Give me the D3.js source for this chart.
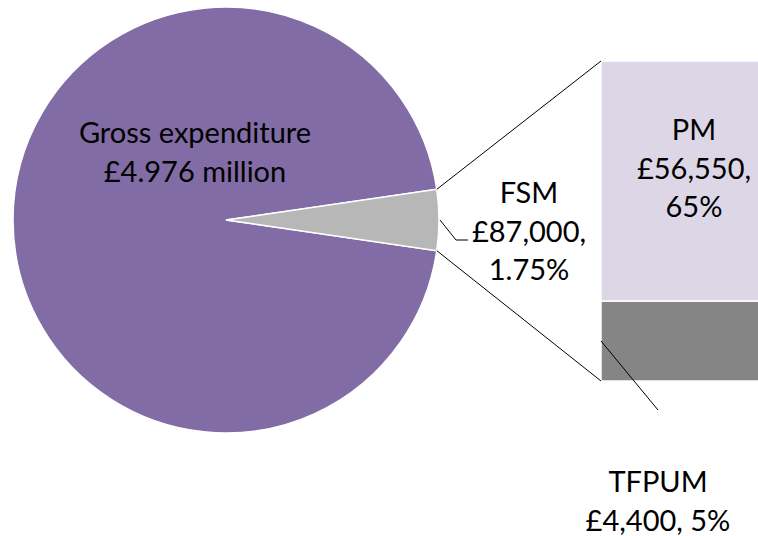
<!DOCTYPE html>
<html>
<head>
<meta charset="utf-8">
<script src="https://cdn.jsdelivr.net/npm/d3@7"></script>
<style>
  body { margin: 0; background: #fff; }
  text { font-family: Lato, "Open Sans", sans-serif; fill: #000; }
</style>
</head>
<body>
<div id="chart"></div>
<script>
// pie slices (share of the circle as drawn)
const pieNames = ['Gross expenditure', 'FSM'];
const pieShares = [95.4, 4.6];
const pieLabels = [['Gross expenditure', '£4.976 million'], ['FSM', '£87,000,', '1.75%']];

// bar segments, bottom to top (share of the bar as drawn)
const barNames = ['TFPUM', 'PM'];
const barShares = [25, 75];
const barLabels = [['TFPUM', '£4,400, 5%'], ['PM', '£56,550,', '65%']];

const pieColors = ['#826ca5', '#b7b7b7'];
const barColors = ['#858585', '#dcd6e6'];

const width = 758;
const height = 536;
const cx = 226, cy = 220, r = 213;

const svg = d3.select('#chart')
  .append('svg')
  .attr('width', width)
  .attr('height', height);

// ---- pie ----
const other = pieShares[1] / d3.sum(pieShares) * 2 * Math.PI;
const pie = d3.pie()
  .sort(null)
  .value(d => d)
  .startAngle(Math.PI / 2 + other / 2)
  .endAngle(Math.PI / 2 + other / 2 + 2 * Math.PI);
const arcs = pie(pieShares);
const arc = d3.arc().innerRadius(0).outerRadius(r);

const g = svg.append('g').attr('transform', `translate(${cx},${cy})`);
g.selectAll('path')
  .data(arcs)
  .join('path')
  .attr('d', arc)
  .attr('fill', (d, i) => pieColors[i])
  .attr('stroke', '#fff')
  .attr('stroke-width', 1.5);

// ---- bar ----
const x = d3.scaleBand().domain(['bar']).range([601, 762]);
const y = d3.scaleLinear().domain([0, d3.sum(barShares)]).range([381, 61]);
const stack = d3.stack().keys(barNames);
const series = stack([Object.fromEntries(barNames.map((n, i) => [n, barShares[i]]))]);

svg.append('g')
  .selectAll('rect')
  .data(series)
  .join('rect')
  .attr('x', x('bar'))
  .attr('width', x.bandwidth())
  .attr('y', d => y(d[0][1]))
  .attr('height', d => y(d[0][0]) - y(d[0][1]))
  .attr('fill', (d, i) => barColors[i])
  .attr('stroke', '#fff')
  .attr('stroke-width', 1.5);

// ---- connector lines ----
const pt = (a, rad) => [cx + rad * Math.sin(a), cy - rad * Math.cos(a)];
const fsm = arcs[1];
const upper = pt(fsm.startAngle, r);
const lower = pt(fsm.endAngle, r);
svg.append('line')
  .attr('x1', upper[0]).attr('y1', upper[1])
  .attr('x2', x('bar')).attr('y2', y(d3.sum(barShares)))
  .attr('stroke', '#000').attr('stroke-width', 1);
svg.append('line')
  .attr('x1', lower[0]).attr('y1', lower[1])
  .attr('x2', x('bar')).attr('y2', y(0))
  .attr('stroke', '#000').attr('stroke-width', 1);

// leader lines
const mid = pt((fsm.startAngle + fsm.endAngle) / 2, r + 1);
svg.append('path')
  .attr('d', `M${mid[0]},${mid[1]}L${mid[0] + 16},${mid[1] + 20}L${mid[0] + 28},${mid[1] + 20}`)
  .attr('fill', 'none').attr('stroke', '#000').attr('stroke-width', 1);
svg.append('line')
  .attr('x1', x('bar')).attr('y1', y(barShares[0] / 2))
  .attr('x2', 658).attr('y2', 410)
  .attr('stroke', '#000').attr('stroke-width', 1);

// ---- labels ----
function block(lines, x0, y0) {
  svg.append('text')
    .attr('text-anchor', 'middle')
    .attr('font-size', 29)
    .selectAll('tspan')
    .data(lines)
    .join('tspan')
    .attr('x', x0)
    .attr('y', (d, i) => y0 + i * 38.5)
    .text(d => d);
}
block(pieLabels[0], 195, 143);
block(pieLabels[1], 529, 203);
block(barLabels[1], 694, 140);
block(barLabels[0], 658, 492);
</script>
</body>
</html>
